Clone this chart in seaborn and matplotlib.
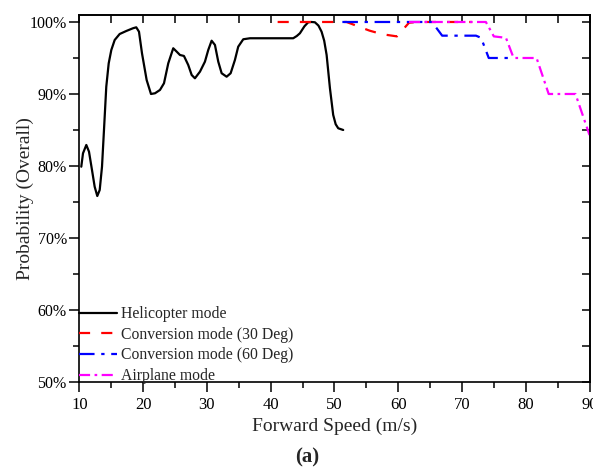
import matplotlib
matplotlib.use("Agg")
import matplotlib.pyplot as plt
import seaborn as sns
import pandas as pd
from matplotlib.ticker import MultipleLocator, FuncFormatter, NullFormatter

# ---- data ----
heli_x = [10.31, 10.58, 11.10, 11.52, 11.99, 12.41, 12.82, 13.20, 13.56, 13.87, 14.23,
          14.61, 15.02, 15.55, 16.33, 17.37, 18.42, 18.93, 19.36, 19.83, 20.56, 21.24,
          21.87, 22.65, 23.28, 23.95, 24.73, 25.27, 25.78, 26.41, 27.08, 27.62, 28.13,
          28.92, 29.70, 30.22, 30.75, 31.27, 31.79, 32.32, 33.10, 33.73, 34.40, 34.92,
          35.71, 36.76, 43.54, 44.10, 44.59, 45.30, 45.89, 46.40, 46.94, 47.50, 47.99,
          48.40, 48.78, 49.30, 49.81, 50.20, 50.60, 51.38]
heli_y = [79.90, 81.76, 82.92, 81.99, 79.44, 77.12, 75.83, 76.67, 79.90, 85.00, 91.01,
          94.26, 96.11, 97.50, 98.33, 98.75, 99.13, 99.26, 98.65, 95.65, 91.94, 90.00,
          90.10, 90.56, 91.49, 94.26, 96.35, 95.88, 95.42, 95.28, 94.03, 92.64, 92.18,
          93.10, 94.49, 96.11, 97.40, 96.81, 94.49, 92.88, 92.40, 92.88, 94.72, 96.57,
          97.60, 97.74, 97.74, 98.05, 98.43, 99.40, 99.96, 100.0, 99.96, 99.50, 98.65,
          97.40, 95.42, 90.80, 87.10, 85.80, 85.24, 85.00]

conv30_x = [41.1, 51.9, 55.5, 57.5, 59.8, 61.7, 63.0, 71.6]
conv30_y = [100.0, 100.0, 98.8, 98.3, 98.0, 99.9, 100.0, 100.0]

conv60_x = [51.25, 65.3, 66.9, 72.2, 73.0, 74.2, 78.0]
conv60_y = [100.0, 100.0, 98.1, 98.1, 97.8, 95.0, 95.0]

air_x = [61.7, 73.75, 75.0, 76.9, 78.1, 81.7, 83.6, 87.8, 90.0]
air_y = [100.0, 100.0, 98.0, 97.8, 95.0, 95.0, 90.0, 90.0, 84.3]

labels = ["Helicopter mode", "Conversion mode (30 Deg)",
          "Conversion mode (60 Deg)", "Airplane mode"]
x_ticks = [10, 20, 30, 40, 50, 60, 70, 80, 90]
y_ticks = [50, 60, 70, 80, 90, 100]

# ---- style ----
sns.set_style("ticks")
plt.rcParams['font.family'] = ['Liberation Serif', 'DejaVu Serif']

fig = plt.figure(figsize=(5.93, 4.70), dpi=100)
ax = fig.add_axes([79.3/593, 1-382/470, (589.5-79.3)/593, (382-15)/470])

series = [
    (heli_x, heli_y, labels[0], "black", "-"),
    (conv30_x, conv30_y, labels[1], "red", (0, (5, 5))),
    (conv60_x, conv60_y, labels[2], "blue", (0, (7, 3, 1.5, 3))),
    (air_x, air_y, labels[3], "magenta", (0, (5, 2, 1.2, 2))),
]
for xs, ys, lab, col, ls in series:
    df = pd.DataFrame({"x": xs, "y": ys})
    sns.lineplot(data=df, x="x", y="y", ax=ax, color=col, linestyle=ls,
                 linewidth=1.6, label=lab, sort=False, estimator=None)

ax.set_xlim(10, 90)
ax.set_ylim(50, 100.97)
ax.set_xticks(x_ticks)
ax.set_yticks(y_ticks)
ax.xaxis.set_minor_locator(MultipleLocator(5))
ax.yaxis.set_minor_locator(MultipleLocator(5))
ax.yaxis.set_major_formatter(FuncFormatter(lambda v, p: f"{v:.0f}%"))
ax.tick_params(which='both', bottom=True, left=True, top=False, right=False,
               direction='out', width=1.1, colors='black')
ax.tick_params(axis='x', labelsize=12, pad=4)
ax.tick_params(axis='y', labelsize=11.5, pad=2)
ax.tick_params(which='major', length=7)
ax.tick_params(which='minor', length=4)
for s in ax.spines.values():
    s.set_linewidth(1.2)
    s.set_color('black')

# mirrored inward ticks on top and right
top = ax.secondary_xaxis('top')
top.set_xticks(x_ticks)
top.xaxis.set_minor_locator(MultipleLocator(5))
top.tick_params(which='both', direction='in', length=6, width=1.1,
                labeltop=False, colors='black')
top.xaxis.set_major_formatter(NullFormatter())
right = ax.secondary_yaxis('right')
right.set_yticks(y_ticks)
right.yaxis.set_minor_locator(MultipleLocator(5))
right.tick_params(which='both', direction='in', length=6, width=1.1,
                  labelright=False, colors='black')
right.yaxis.set_major_formatter(NullFormatter())
for sec in (top, right):
    for s in sec.spines.values():
        s.set_linewidth(1.2)
        s.set_color('black')

ax.set_xlabel("Forward Speed (m/s)", fontsize=14, labelpad=3)
ax.set_ylabel("Probability (Overall)", fontsize=14, labelpad=-3)

leg = ax.legend(loc="lower left", frameon=False, fontsize=11.3, borderaxespad=0,
                borderpad=0.0, handlelength=2.4, handletextpad=0.25, labelspacing=0.3)
leg.set_bbox_to_anchor((0, -0.006), transform=ax.transAxes)

fig.text(307/593, 1-457/470, "(a)", ha="center", va="center", fontsize=15,
         fontweight="bold")

fig.savefig("out.png", dpi=100)
